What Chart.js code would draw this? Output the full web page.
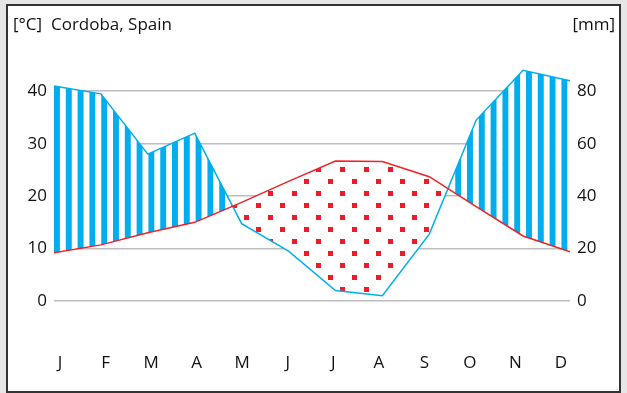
<!DOCTYPE html>
<html>
<head>
<meta charset="utf-8">
<script src="https://cdn.jsdelivr.net/npm/chart.js@4.4.1/dist/chart.umd.min.js"></script>
<style>
  html, body { margin: 0; padding: 0; background: #e6e6e6; }
  #wrap { position: relative; width: 627px; height: 393px; overflow: hidden; }
  #frame { position: absolute; left: 6px; top: 4px; width: 615px; height: 389px;
           border: 2px solid #333; background: #fff; box-sizing: border-box; }
  #chart { position: absolute; left: 0; top: 0; }
  .lbl { position: absolute; top: 12px; font: 17px "Open Sans", sans-serif; color: #111; white-space: pre; }
</style>
</head>
<body>
<div id="wrap">
  <div id="frame"></div>
  <canvas id="chart" width="627" height="393"></canvas>
  <span class="lbl" style="left:13px">[°C]  Cordoba, Spain</span>
  <span class="lbl" style="right:12px">[mm]</span>
</div>
<script>
const months = ['J', 'F', 'M', 'A', 'M', 'J', 'J', 'A', 'S', 'O', 'N', 'D'];
const temperature = [9.2, 10.7, 13.0, 15.0, 18.8, 22.8, 26.7, 26.6, 23.7, 18.0, 12.4, 9.4];
const precipitation = [82, 79, 56, 64, 29.5, 19, 4, 2, 25.5, 69, 88, 84];
const tempTicks = [0, 10, 20, 30, 40];
const precipTicks = [0, 20, 40, 60, 80];

const font = { family: '"Open Sans", sans-serif', size: 17 };

// blue vertical stripes on white (humid months)
function stripes() {
    const c = document.createElement('canvas');
    c.width = 12; c.height = 12;
    const g = c.getContext('2d');
    g.fillStyle = '#fff'; g.fillRect(0, 0, 12, 12);
    g.fillStyle = '#00aeef'; g.fillRect(0, 0, 6, 12);
    const p = g.createPattern(c, 'repeat');
    p.setTransform(new DOMMatrix().translate(54, 0).scale(11.8 / 12, 1));
    return p;
}

// red dots on white (arid months)
function dots() {
    const c = document.createElement('canvas');
    c.width = 24; c.height = 24;
    const g = c.getContext('2d');
    g.fillStyle = '#fff'; g.fillRect(0, 0, 24, 24);
    g.fillStyle = '#ee1c25';
    g.fillRect(2, 2, 5, 5);
    g.fillRect(14, 14, 5, 5);
    const p = g.createPattern(c, 'repeat');
    p.setTransform(new DOMMatrix().translate(314, 165));
    return p;
}

const ctx = document.getElementById('chart').getContext('2d');

new Chart(ctx, {
    type: 'line',
    data: {
        datasets: [{
            label: 'Temperature',
            data: temperature.map((v, i) => ({ x: i, y: v })),
            borderColor: '#ee2229',
            borderWidth: 1.5,
            pointRadius: 0,
            yAxisID: 'y',
            xAxisID: 'x',
            fill: false
        }, {
            label: 'Precipitation',
            data: precipitation.map((v, i) => ({ x: i, y: v })),
            borderColor: '#00aeef',
            borderWidth: 1.5,
            pointRadius: 0,
            yAxisID: 'y2',
            xAxisID: 'x',
            fill: { target: 0, above: stripes(), below: dots() }
        }]
    },
    options: {
        responsive: false,
        animation: false,
        layout: { padding: { top: 65, left: 0, right: 0, bottom: 0 } },
        plugins: {
            legend: { display: false },
            tooltip: { enabled: false }
        },
        scales: {
            x: { type: 'linear', min: 0, max: 11, display: false },
            xl: {
                type: 'linear',
                position: 'bottom',
                min: -0.132,
                max: 11.2,
                afterBuildTicks: s => { s.ticks = months.map((m, i) => ({ value: i })); },
                afterFit: s => { s.height = 53; },
                grid: { display: false, drawTicks: false },
                border: { display: false },
                ticks: {
                    autoSkip: false, maxRotation: 0, padding: 13,
                    color: '#111', font,
                    callback: v => months[v]
                }
            },
            y: {
                position: 'left',
                min: -7.44,
                max: 45,
                afterBuildTicks: s => { s.ticks = tempTicks.map(v => ({ value: v })); },
                afterFit: s => { s.width = 54; },
                grid: { color: '#bdbdbd', lineWidth: 1.5, drawTicks: false },
                border: { display: false },
                ticks: { padding: 7, color: '#111', font }
            },
            y2: {
                position: 'right',
                min: -14.88,
                max: 90,
                afterBuildTicks: s => { s.ticks = precipTicks.map(v => ({ value: v })); },
                afterFit: s => { s.width = 57; },
                grid: { display: false, drawTicks: false },
                border: { display: false },
                ticks: { padding: 7, color: '#111', font }
            }
        }
    }
});
</script>
</body>
</html>
